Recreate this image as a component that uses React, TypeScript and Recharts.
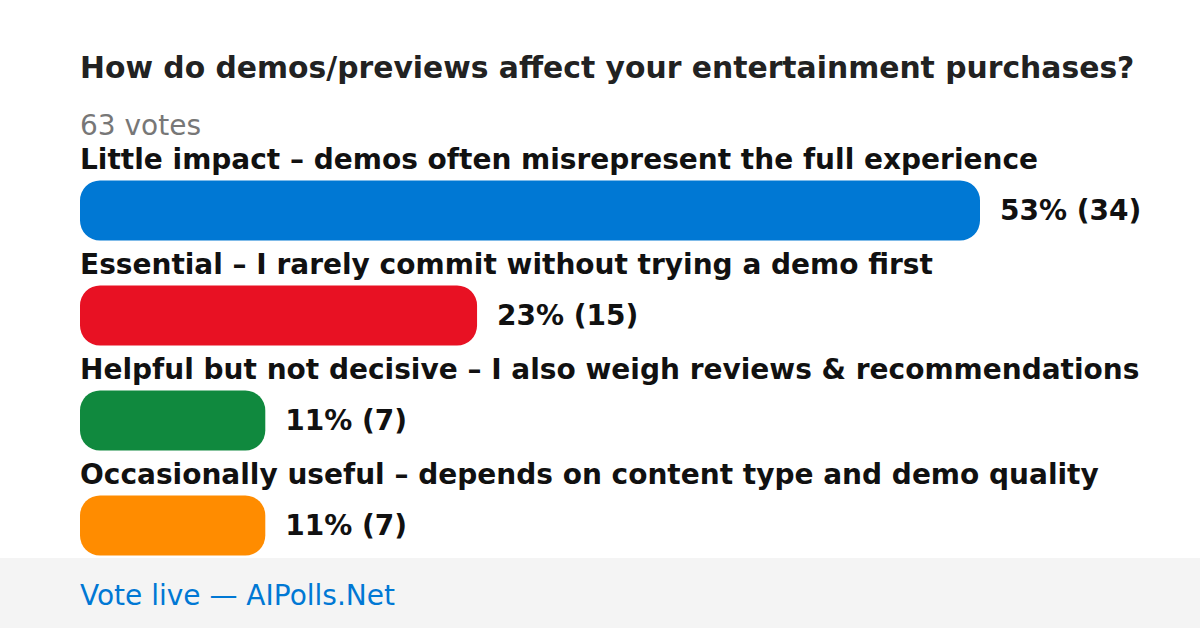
import React from "react";
import { BarChart, Bar, XAxis, YAxis, Cell, LabelList } from "recharts";

const title = "How do demos/previews affect your entertainment purchases?";
const totalVotesLabel = "63 votes";
const footerText = "Vote live — AIPolls.Net";

const categories = [
  "Little impact – demos often misrepresent the full experience",
  "Essential – I rarely commit without trying a demo first",
  "Helpful but not decisive – I also weigh reviews & recommendations",
  "Occasionally useful – depends on content type and demo quality",
];
const votes = [34, 15, 7, 7];
const percents = [53, 23, 11, 11];
const colors = ["#0078d4", "#e81123", "#10893e", "#ff8c00"];

const data = categories.map((name, i) => ({
  name,
  votes: votes[i],
  pct: percents[i],
}));

const FONT = "'DejaVu Sans', Verdana, sans-serif";

const renderName = (props: any) => {
  const { x, y, index } = props;
  return (
    <text
      x={x}
      y={y - 12}
      fontFamily={FONT}
      fontSize={28}
      fontWeight="bold"
      fill="#111111"
    >
      {categories[index]}
    </text>
  );
};

const renderValue = (props: any) => {
  const { x, y, width, height, index } = props;
  return (
    <text
      x={x + width + 20}
      y={y + height / 2}
      dominantBaseline="central"
      fontFamily={FONT}
      fontSize={28}
      fontWeight="bold"
      fill="#111111"
    >
      {`${percents[index]}% (${votes[index]})`}
    </text>
  );
};

export default function App() {
  return (
    <div
      style={{
        position: "absolute",
        top: 0,
        left: 0,
        width: 1200,
        height: 628,
        background: "#ffffff",
        overflow: "hidden",
        fontFamily: FONT,
      }}
    >
      <svg
        width={1200}
        height={628}
        style={{ position: "absolute", top: 0, left: 0 }}
      >
        <text x={80} y={78} fontFamily={FONT} fontSize={29.8} fontWeight="bold" fill="#222222">
          {title}
        </text>
        <text x={80} y={135} fontFamily={FONT} fontSize={28} fill="#777777">
          {totalVotesLabel}
        </text>
        <rect x={0} y={558} width={1200} height={70} fill="#f4f4f4" />
        <text x={80} y={605} fontFamily={FONT} fontSize={28} fill="#0078d4">
          {footerText}
        </text>
      </svg>
      <div style={{ position: "absolute", top: 0, left: 0 }}>
        <BarChart
          width={1200}
          height={628}
          data={data}
          layout="vertical"
          margin={{ top: 157.5, right: 220, bottom: 50.5, left: 80 }}
        >
          <XAxis type="number" domain={[0, 34]} allowDataOverflow hide />
          <YAxis type="category" dataKey="name" hide />
          <Bar dataKey="votes" barSize={60} radius={20} isAnimationActive={false}>
            {data.map((d, i) => (
              <Cell key={d.name} fill={colors[i]} />
            ))}
            <LabelList dataKey="name" content={renderName} />
            <LabelList dataKey="votes" content={renderValue} />
          </Bar>
        </BarChart>
      </div>
    </div>
  );
}
